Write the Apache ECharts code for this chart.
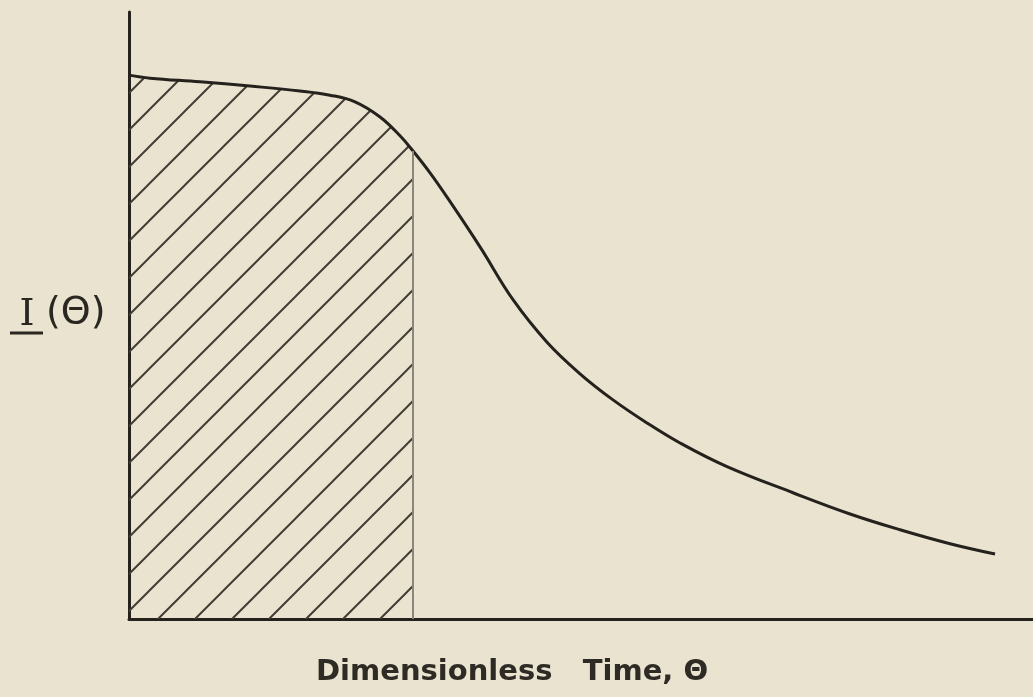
<!DOCTYPE html>
<html>
<head>
<meta charset="utf-8">
<script src="https://cdn.jsdelivr.net/npm/echarts@6/dist/echarts.min.js"></script>
<style>
html,body{margin:0;padding:0;background:#e9e3d0;}
#chart{width:1033px;height:697px;}
</style>
</head>
<body>
<div id="chart"></div>
<script>
// Dimensionless time values (theta) and intensity I(theta)
var thetaValues = [0, 0.232, 0.785, 1.338, 1.892, 2.223, 2.500, 2.777, 2.998, 3.142, 3.330, 3.518, 3.883, 4.248, 4.624, 4.989, 5.354, 5.730, 6.095, 6.615, 7.345, 7.976, 8.529, 9.082, 9.580];
var intensityValues = [0.896, 0.891, 0.885, 0.878, 0.870, 0.863, 0.852, 0.827, 0.796, 0.771, 0.735, 0.695, 0.613, 0.526, 0.456, 0.404, 0.361, 0.323, 0.290, 0.251, 0.208, 0.173, 0.147, 0.124, 0.107];
var hatchEndTheta = 3.142;
var xAxisTitle = 'Dimensionless   Time, \u0398';
var yAxisSymbol = 'I';
var yAxisArg = '(\u0398)';

var curveData = thetaValues.map(function (t, i) { return [t, intensityValues[i]]; });
var hatchData = curveData.filter(function (p) { return p[0] <= hatchEndTheta; });
var hatchTop = hatchData[hatchData.length - 1][1];

var tile = document.createElement('canvas');
var s = 37;
tile.width = s; tile.height = s;
var ctx = tile.getContext('2d');
ctx.strokeStyle = '#433e35';
ctx.lineWidth = 2;
ctx.beginPath();
ctx.moveTo(0, s); ctx.lineTo(s, 0);
ctx.moveTo(-s / 2, s / 2); ctx.lineTo(s / 2, -s / 2);
ctx.moveTo(s / 2, 3 * s / 2); ctx.lineTo(3 * s / 2, s / 2);
ctx.stroke();

var ink = '#25221d';
var chart = echarts.init(document.getElementById('chart'));
chart.setOption({
  animation: false,
  backgroundColor: '#e9e3d0',
  grid: { left: 129, right: 0, top: 12, bottom: 78 },
  xAxis: {
    type: 'value', min: 0, max: 10,
    axisLine: { show: true, lineStyle: { color: ink, width: 3 } },
    axisTick: { show: false }, axisLabel: { show: false }, splitLine: { show: false }
  },
  yAxis: {
    type: 'value', min: 0, max: 1,
    axisLine: { show: true, lineStyle: { color: ink, width: 3 } },
    axisTick: { show: false }, axisLabel: { show: false }, splitLine: { show: false }
  },
  series: [
    {
      type: 'line', data: hatchData, smooth: 0.4, symbol: 'none', z: 1,
      lineStyle: { width: 0 },
      areaStyle: { color: { image: tile, repeat: 'repeat' }, opacity: 1 },
      markLine: {
        silent: true, symbol: 'none', label: { show: false },
        lineStyle: { color: '#8a867a', width: 2, type: 'solid' },
        data: [[{ coord: [hatchEndTheta, 0] }, { coord: [hatchEndTheta, hatchTop] }]]
      }
    },
    {
      type: 'line', data: curveData, smooth: 0.4, symbol: 'none', z: 3,
      lineStyle: { color: ink, width: 3 }
    }
  ],
  graphic: [
    {
      type: 'text', left: 316, top: 658,
      style: { text: xAxisTitle, font: 'bold 29px "DejaVu Sans"', fill: '#2e2a24' }
    },
    {
      type: 'text', x: 27, y: 296,
      style: { text: yAxisSymbol, font: '38px "DejaVu Serif"', fill: '#2a2620', align: 'center' }
    },
    {
      type: 'text', left: 46, top: 294,
      style: { text: yAxisArg, font: '38px "DejaVu Sans"', fill: '#2a2620' }
    },
    {
      type: 'line', shape: { x1: 10, y1: 333, x2: 43, y2: 333 },
      style: { stroke: '#2a2620', lineWidth: 3 }
    }
  ]
});
</script>
</body>
</html>
